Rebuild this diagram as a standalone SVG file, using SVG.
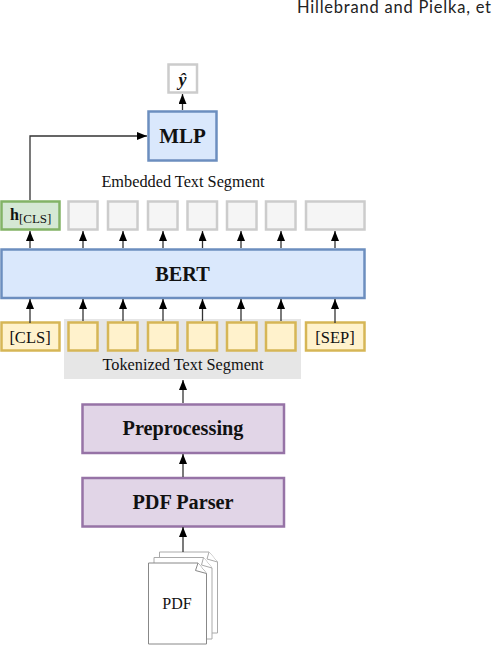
<svg xmlns="http://www.w3.org/2000/svg" width="492" height="646" viewBox="0 0 492 646">
<defs>
<marker id="ah" markerUnits="userSpaceOnUse" markerWidth="10" markerHeight="9" refX="10" refY="4" orient="auto"><path d="M0 0L10 4L0 8z" fill="#000"/></marker>
</defs>
<style>
text{font-family:"Liberation Serif","Times New Roman",serif;fill:#111;text-anchor:middle}
.b{font-weight:bold;font-size:20.300px}
.s{font-size:16.300px}
.blue{fill:#dae8fc;stroke:#6c8ebf;stroke-width:2.5}
.pur{fill:#e1d5e7;stroke:#9673a6;stroke-width:2.5}
.yel{fill:#fff2cc;stroke:#d6b656;stroke-width:2.5}
.gry{fill:#f5f5f5;stroke:#ccc;stroke-width:2.5}
.c{fill:none;stroke:#333;stroke-width:1.3;marker-end:url(#ah)}
.d{fill:#fff;stroke:#aaa;stroke-width:1}
</style>
<text x="297" y="13" textLength="194" lengthAdjust="spacing" style="font-family:'Lato','Open Sans',sans-serif;font-size:16.500px;text-anchor:start;fill:#222">Hillebrand and Pielka, et</text>
<rect id="tok-bg" x="64" y="319" width="237" height="60" fill="#e6e6e6"/>
<g id="yhat"><rect class="gry" x="168.500" y="64.500" width="28.500" height="28" style="fill:#fff"/><text x="182.500" y="86" style="font-weight:bold;font-style:italic;font-size:18px">ŷ</text></g>
<g id="mlp"><rect class="blue" x="148.500" y="111.500" width="68" height="49"/><text class="b" x="182.500" y="143" style="font-size:21px">MLP</text></g>
<text id="embedded-label" class="s" x="183" y="187">Embedded Text Segment</text>
<g id="hcls"><rect x="1.500" y="201.500" width="58" height="28" fill="#d5e8d4" stroke="#82b366" stroke-width="2.500"/><text x="10" y="220" style="text-anchor:start;font-size:16px;font-weight:bold">h<tspan dy="3" style="font-size:13px;font-weight:normal">[CLS]</tspan></text></g>
<g id="emb1"><rect class="gry" x="68.500" y="201.500" width="29" height="28"/></g>
<g id="emb2"><rect class="gry" x="108" y="201.500" width="29.500" height="28"/></g>
<g id="emb3"><rect class="gry" x="148" y="201.500" width="29.500" height="28"/></g>
<g id="emb4"><rect class="gry" x="187.500" y="201.500" width="29.500" height="28"/></g>
<g id="emb5"><rect class="gry" x="227" y="201.500" width="29.500" height="28"/></g>
<g id="emb6"><rect class="gry" x="266" y="201.500" width="29.500" height="28"/></g>
<g id="emb7"><rect class="gry" x="306" y="201.500" width="58.500" height="28"/></g>
<g id="bert"><rect class="blue" x="1.500" y="249.500" width="363" height="48.500"/><text class="b" x="182.500" y="281">BERT</text></g>
<g id="cls"><rect class="yel" x="1.500" y="322.500" width="58" height="28"/><text class="s" x="30" y="343" style="font-size:16.500px">[CLS]</text></g>
<g id="tok1"><rect class="yel" x="68.500" y="322.500" width="29" height="28"/></g>
<g id="tok2"><rect class="yel" x="108" y="322.500" width="29.500" height="28"/></g>
<g id="tok3"><rect class="yel" x="148" y="322.500" width="29.500" height="28"/></g>
<g id="tok4"><rect class="yel" x="187.500" y="322.500" width="29.500" height="28"/></g>
<g id="tok5"><rect class="yel" x="227" y="322.500" width="29.500" height="28"/></g>
<g id="tok6"><rect class="yel" x="266" y="322.500" width="29.500" height="28"/></g>
<g id="sep"><rect class="yel" x="306" y="322.500" width="58.500" height="28"/><text class="s" x="335" y="343" style="font-size:16.500px">[SEP]</text></g>
<text id="tokenized-label" class="s" x="183" y="370">Tokenized Text Segment</text>
<g id="prep"><rect class="pur" x="82.500" y="404.500" width="201.500" height="48.500"/><text class="b" x="183" y="435">Preprocessing</text></g>
<g id="parser"><rect class="pur" x="82.500" y="478" width="201.500" height="48.500"/><text class="b" x="183" y="509">PDF Parser</text></g>
<g id="pdf">
<path class="d" d="M159.500 552H209L217.500 562V633H159.500z"/><path class="d" d="M209 552L207 559L217.500 562"/>
<path class="d" d="M154 557.500H203.500L212 568V639H154z"/><path class="d" d="M203.500 557.500L201.500 565L212 568"/>
<path class="d" d="M148.500 563H198L206.500 573.500V644H148.500z" style="stroke:#888"/><path class="d" d="M198 563L195.500 570.500L206.500 573.500" style="stroke:#888"/>
<text x="177" y="609" style="font-size:16px">PDF</text>
</g>
<g id="connectors">
<path class="c" d="M182.500 110V94"/>
<path class="c" d="M30 200V136H147"/>
<path class="c" d="M30 248V231"/>
<path class="c" d="M83 248V231"/>
<path class="c" d="M123 248V231"/>
<path class="c" d="M163 248V231"/>
<path class="c" d="M202.500 248V231"/>
<path class="c" d="M241 248V231"/>
<path class="c" d="M281 248V231"/>
<path class="c" d="M335 248V231"/>
<path class="c" d="M30 323V299"/>
<path class="c" d="M83 321V299"/>
<path class="c" d="M123 321V299"/>
<path class="c" d="M163 321V299"/>
<path class="c" d="M202.500 321V299"/>
<path class="c" d="M241 321V299"/>
<path class="c" d="M281 321V299"/>
<path class="c" d="M335 323V299"/>
<path class="c" d="M183 403V380"/>
<path class="c" d="M183 477V454"/>
<path class="c" d="M183 552V527"/>
</g>
</svg>
